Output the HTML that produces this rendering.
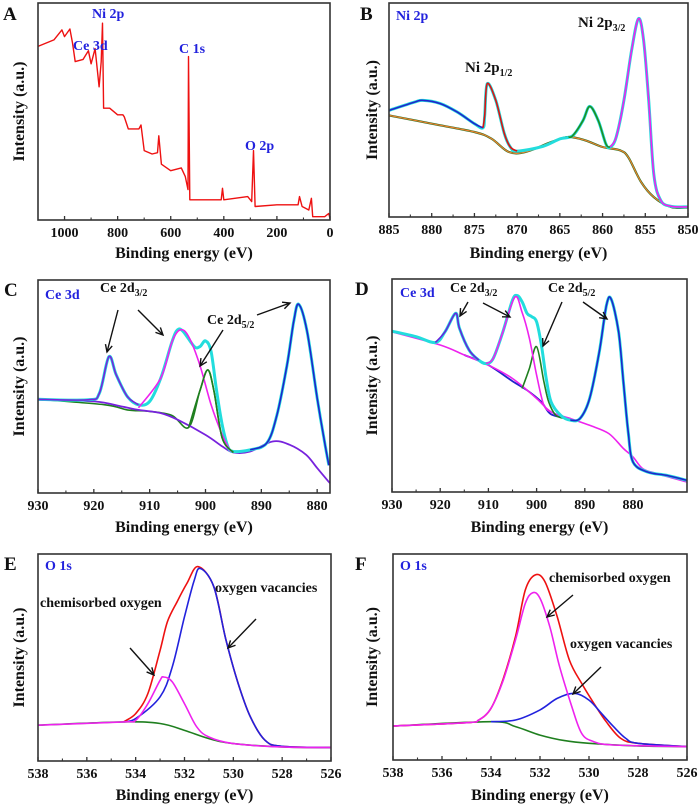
<!DOCTYPE html>
<html><head><meta charset="utf-8"><style>
html,body{margin:0;padding:0;background:#fff;}
svg{display:block;font-family:"Liberation Serif",serif;font-weight:bold;}
</style></head><body>
<svg id="fig" width="700" height="809" viewBox="0 0 700 809" xmlns="http://www.w3.org/2000/svg"></svg>
<script>
// ---------- DATA (eV, relative intensity 0-100) ----------
const surveyA = [[1100,80],[1040,83],[1010,87.6],[1000,84.5],[980,88],[970,81.6],[960,73],[930,74],[910,78],[900,72],[885,79],[870,61.4],[862,73],[857,90.7],[853,51.5],[830,51.5],[800,48.5],[780,48.5],[775,47.5],[760,42],[720,42],[712,43.8],[700,32],[670,30.4],[650,31],[645,38.8],[635,25.7],[600,22.7],[560,24],[545,20],[535,14],[533,75.3],[528,9.3],[500,9.3],[410,9.3],[405,14.6],[400,9.3],[310,10.8],[295,8.5],[288,32],[282,6.2],[200,7],[120,7],[115,10.8],[105,6.2],[80,4.6],[70,10],[65,1.5],[20,1.5],[5,3],[0,0.8]];

const bgB = [[885,47.5],[880,43.6],[875,39.7],[873,36.6],[871,30.4],[869,30.4],[866,35],[864,37.4],[862,35.8],[860,32.7],[858,31.2],[857,28],[855.5,16.4],[854,9.3],[852,4.7],[850,4.4]];
const envB = [[885,49.8],[882,53.7],[881,54.5],[879,53],[877,49],[875,43.6],[874,41.7],[873.8,47.5],[873.5,62.3],[872.5,54.5],[871.5,39],[870.8,32.7],[870,30.8],[867,33],[865,36.5],[863.5,38],[862.3,45],[861.5,51.7],[860.5,45],[859.6,34],[859.1,32.7],[858.4,37.4],[857.5,54.5],[856.6,77.9],[855.8,92.7],[855.2,82.6],[854.6,54.5],[854,20],[853.2,7.8],[852,5],[850,4.7]];
const satB = [[885,49.8],[882,53.7],[881,54.5],[879,53],[877,49],[875,43.6],[874,41.7]];
const p12B = [[874,41.7],[873.8,47.5],[873.5,62.3],[872.5,54.5],[871.5,39],[870.8,32.7],[870,30.8]];
const satB2 = [[864,37.4],[863.5,38],[862.3,45],[861.5,51.7],[860.5,45],[859.6,34],[859.1,32.7]];
const p32B = [[859.1,32.7],[858.4,37.4],[857.5,54.5],[856.6,77.9],[855.8,92.7],[855.2,82.6],[854.6,54.5],[854,20],[853.2,7.8],[852,5],[850,4.7]];

const bgC = [[930,43.75],[920,43],[915,40.6],[912,39],[908,37.5],[905,34.4],[900,27.3],[897,21.9],[895,19],[892,19.5],[888,24.2],[885,22.7],[882,18],[880,11.7],[878,5.5],[877.7,4.7]];
const greenC = [[930,44],[918,41.4],[914,39],[910,38.3],[906,36.4],[903,30.8],[901,48],[899.6,57.8],[898.5,48],[897,25.8],[895,19]];
const envC = [[930,44],[921,43.75],[919,46.9],[917.3,64],[916,55.5],[914,45.3],[912,41.4],[910,43],[908,54],[906,71],[905,76.6],[904,75.8],[902,68.75],[901,68.75],[900,71.4],[899,66.4],[898,47.7],[897,32],[896,21.9],[895,19.5],[892,20.3],[889,23.5],[887.2,36.7],[885.4,60],[884.2,80.5],[883.3,88.6],[881.8,75.8],[880,44.5],[878.8,25.8],[877.9,13]];
const pk1C = [[930,44],[921,43.75],[919,46.9],[917.3,64],[916,55.5],[914,45.3],[912,41.4]];
const pk2C = [[912,40],[908,54],[906,71],[904.5,76.6],[903,73.4],[901,60],[899,41.4],[897,27.3],[895.5,19.5]];
const pk3C = [[892,20.3],[889,23.5],[887.2,36.7],[885.4,60],[884.2,80.5],[883.3,88.6],[881.8,75.8],[880,44.5],[878.8,25.8],[877.9,13]];

const bgD = [[930,75.2],[920,69],[915,64.3],[910,59.6],[905,53.3],[900,43.9],[897,37.6],[893,34.5],[889,31.3],[885,27.4],[882,20.4],[880,16.5],[878,11],[875,8.6],[868.8,4.7]];
const blueBgD = [[915,64.3],[910,59.6],[905,52],[902,47.8],[899,42.3],[897,36.5],[893,34.5]];
const greenD = [[903,48.6],[901.5,58],[900,68.2],[898.5,52],[897.5,42.3],[896,36],[894,34.5]];
const envD = [[930,75.5],[925,72.9],[921,70.2],[919,75.2],[916.8,83.9],[916,76.8],[914,66.6],[912,61.9],[910.5,60.3],[909,62.7],[907,75.2],[905,90.1],[904,92.2],[903,89.3],[902,83.9],[901,82.3],[900,79.9],[899,69],[898,53.3],[897,42.3],[895,36],[893,33.7],[891,34.5],[889,43.9],[887,65.8],[885.5,87.8],[884.5,90.4],[883,75.2],[882,51.7],[881,28.2],[880,14.1],[877,9.4],[873,7.8],[868.8,5.5]];
const pk1D = [[921,70.2],[919,75.2],[916.8,83.9],[916,76.8],[914,66.6],[912,61.9]];
const pk2D = [[910.5,60.3],[909,62.7],[907,75.2],[904.5,91.5],[903,84.3],[901.5,72.1],[900,54.9],[898.5,40.8],[897,37.6]];
const pk3D = [[893,33.7],[891,34.5],[889,43.9],[887,65.8],[885.5,87.8],[884.5,90.4],[883,75.2],[882,51.7],[881,28.2],[880,14.1],[877,9.4],[873,7.8],[868.8,5.5]];

const greenE = [[538,17.3],[534.5,18.9],[533,18.1],[532,14.8],[531,10.8],[530,8.4],[528,6.8],[526,6.5]];
const magE = [[538,17.3],[534.5,18.9],[534,19.7],[533.5,27.7],[533,39],[532.85,40.6],[532.5,38.2],[532,27.7],[531.5,16.5],[531,11.6],[530,8.4],[528,6.8],[526,6.5]];
const blueE = [[534.5,18.9],[534,20.5],[533,31],[532.5,45.5],[532,69.7],[531.6,87.4],[531.35,93],[530.8,84.2],[530.3,58.4],[529.8,37.4],[529.3,21.3],[528.7,10],[528,7.1],[526,6.5]];
const redE = [[534.5,18.9],[534,22.9],[533.5,32.6],[533,53.5],[532.7,67.3],[532.3,77],[531.9,85.8],[531.45,93.9],[530.8,84.2],[530.3,58.4],[529.8,37.4],[529.3,21.3],[528.7,10],[528,7.1],[526,6.5]];

const greenF = [[538,16.5],[534,18.6],[533,16.2],[532,12.1],[531,9.4],[530,8.1],[528,6.8],[526,6.5]];
const blueF = [[534,18.6],[533,19.4],[532,24.3],[531.3,29.9],[530.6,32.4],[530,29.1],[529.5,22.7],[529,16.2],[528.5,10.5],[528,8.1],[526,6.5]];
const magF = [[538,16.5],[535,18.1],[534.5,19.4],[534,25.1],[533.5,38.8],[533,58.3],[532.6,76],[532.3,81.2],[532,78.5],[531.6,64.7],[531.2,45.3],[530.7,25.9],[530.3,12.9],[529.8,8.9],[529,7.3],[526,6.5]];
const redF = [[538,16.5],[535,18.1],[534.5,19.4],[534,25.1],[533.5,39.5],[533,59.9],[532.6,82.5],[532.2,89.8],[531.8,86.6],[531.3,69.6],[530.8,48.5],[530.3,37.2],[529.8,27.5],[529.3,18.6],[528.7,10.5],[528,8.1],[526,6.5]];

const ticksA = [1000,800,600,400,200,0];
const ticksB = [885,880,875,870,865,860,855,850];
const ticksCD = [930,920,910,900,890,880];
const ticksEF = [538,536,534,532,530,528,526];

// ---------- DRAWING ----------
const NS = "http://www.w3.org/2000/svg";
const svg = document.getElementById('fig');
function el(tag, attrs, parent){const e=document.createElementNS(NS,tag);for(const k in attrs)e.setAttribute(k,attrs[k]);(parent||svg).appendChild(e);return e;}

function smoothPath(pts){
  if(pts.length<3){return 'M'+pts.map(p=>p.join(',')).join('L');}
  let d='M'+pts[0][0].toFixed(1)+','+pts[0][1].toFixed(1);
  for(let i=0;i<pts.length-1;i++){
    const p0=pts[i-1]||pts[i],p1=pts[i],p2=pts[i+1],p3=pts[i+2]||p2;
    const c1=[p1[0]+(p2[0]-p0[0])/6,p1[1]+(p2[1]-p0[1])/6];
    const c2=[p2[0]-(p3[0]-p1[0])/6,p2[1]-(p3[1]-p1[1])/6];
    d+='C'+c1[0].toFixed(1)+','+c1[1].toFixed(1)+' '+c2[0].toFixed(1)+','+c2[1].toFixed(1)+' '+p2[0].toFixed(1)+','+p2[1].toFixed(1);
  }
  return d;
}

function panel(cfg){
  const g=el('g',{});
  
  
  const {x0,x1,y0,y1,d0,d1}=cfg;
  const sx=v=>x0+(v-d0)/(d1-d0)*(x1-x0);
  const sy=v=>y1-v/100*(y1-y0);
  cfg.series.forEach(s=>{
    const pts=s.data.map(p=>[sx(p[0]),sy(p[1])]);
    const d=s.linear?'M'+pts.map(p=>p[0].toFixed(1)+','+p[1].toFixed(1)).join('L'):smoothPath(pts);
    const path=el('path',{d:d,fill:'none',stroke:s.color,'stroke-width':s.w||1.6,'stroke-linejoin':'round'},g);
    
    
  });
  const fr=el('rect',{x:x0,y:y0,width:x1-x0,height:y1-y0,fill:'none',stroke:'#333','stroke-width':1.6},g);
  
  
  cfg.ticks.forEach((t,i)=>{
    const x=sx(t);
    el('line',{x1:x,x2:x,y1:y1,y2:y1-4,stroke:'#333','stroke-width':1.3},g);
    const tx=el('text',{x:x,y:y1+17,'text-anchor':'middle','font-size':14,fill:'#111'},g);
    tx.textContent=t;
    
    
    if(i<cfg.ticks.length-1){
      const m=sx((t+cfg.ticks[i+1])/2);
      el('line',{x1:m,x2:m,y1:y1,y2:y1-2.5,stroke:'#333','stroke-width':1.1},g);
    }
  });
  const xt=el('text',{x:(x0+x1)/2,y:cfg.xtY,'text-anchor':'middle','font-size':16,fill:'#111'},g);
  xt.textContent='Binding energy (eV)';
  
  
  const yc=(y0+y1)/2;
  const yt=el('text',{x:cfg.ytX,y:yc,'text-anchor':'middle','font-size':16,fill:'#111',transform:`rotate(-90 ${cfg.ytX} ${yc})`},g);
  yt.textContent='Intensity (a.u.)';
  
  
  const lt=el('text',{x:cfg.letter[1],y:cfg.letter[2],'font-size':19,fill:'#111'},g);
  lt.textContent=cfg.letter[0];
  
  
  (cfg.labels||[]).forEach(L=>{
    const t=el('text',{x:L.x,y:L.y,'font-size':L.fs||14,fill:L.c||'#111'},g);
    t.innerHTML=L.t;
    
    
  });
  (cfg.arrows||[]).forEach(a=>{
    const [ax1,ay1,ax2,ay2]=a;
    const ang=Math.atan2(ay2-ay1,ax2-ax1);
    const l=el('line',{x1:ax1,y1:ay1,x2:ax2,y2:ay2,stroke:'#111','stroke-width':1.4},g);
    
    
    const h=8,sp=0.45;
    el('path',{d:`M${ax2-h*Math.cos(ang-sp)},${ay2-h*Math.sin(ang-sp)}L${ax2},${ay2}L${ax2-h*Math.cos(ang+sp)},${ay2-h*Math.sin(ang+sp)}`,fill:'none',stroke:'#111','stroke-width':1.4},g);
  });
}

const sub=(a,b)=>`${a}<tspan font-size="10" dy="4">${b}</tspan>`;

panel({name:'panel-a-survey',x0:38,x1:330,y0:3,y1:220,d0:1100,d1:0,ticks:ticksA,xtY:258,ytX:24,letter:['A',3,20],
  series:[{data:surveyA,color:'#ee1111',w:1.4,linear:true,name:'survey-spectrum'}],
  labels:[{t:'Ni 2p',x:92,y:18,c:'#2222dd',n:'label-ni2p'},{t:'Ce 3d',x:73,y:50,c:'#2222dd',n:'label-ce3d'},{t:'C 1s',x:179,y:53,c:'#2222dd',n:'label-c1s'},{t:'O 2p',x:245,y:150,c:'#2222dd',n:'label-o2p'}]});

panel({name:'panel-b-ni2p',x0:389,x1:688,y0:3,y1:217,d0:885,d1:850,ticks:ticksB,xtY:258,ytX:377,letter:['B',360,20],
  series:[{data:bgB,color:'#1f6f1f',w:2.2,name:'background-green'},{data:bgB,color:'#f08030',w:1.2,name:'background-orange'},
    {data:envB,color:'#22dddd',w:3,name:'envelope'},{data:satB,color:'#2222cc',name:'satellite-1'},{data:p12B,color:'#dd1111',name:'peak-2p12'},
    {data:satB2,color:'#1f8f1f',name:'satellite-2'},{data:p32B,color:'#ee22ee',name:'peak-2p32'}],
  labels:[{t:'Ni 2p',x:396,y:20,c:'#2222dd',n:'label-ni2p'},{t:sub('Ni 2p','3/2'),x:578,y:27,fs:15,n:'label-ni2p32'},{t:sub('Ni 2p','1/2'),x:465,y:72,fs:15,n:'label-ni2p12'}]});

panel({name:'panel-c-ce3d',x0:38,x1:330,y0:280,y1:493,d0:930,d1:877.7,ticks:ticksCD,xtY:532,ytX:24,letter:['C',4,296],
  series:[{data:greenC,color:'#1f7f1f',name:'background-green'},{data:bgC,color:'#7722dd',w:1.8,name:'background-purple'},
    {data:envC,color:'#22dddd',w:3,name:'envelope'},{data:pk1C,color:'#7722dd',name:'peak-917'},{data:pk2C,color:'#ee22ee',name:'peak-904'},
    {data:greenC.slice(5),color:'#1f7f1f',name:'peak-900'},{data:pk3C,color:'#2222cc',name:'peak-883'}],
  labels:[{t:'Ce 3d',x:45,y:299,c:'#2222dd',n:'label-ce3d'},{t:sub('Ce 2d','3/2'),x:100,y:292,n:'label-ce2d32'},{t:sub('Ce 2d','5/2'),x:207,y:324,n:'label-ce2d52'}],
  arrows:[[118,310,107,352],[138,310,163,335],[223,330,200,366],[257,315,290,303]]});

panel({name:'panel-d-ce3d',x0:392,x1:687,y0:279,y1:492,d0:930,d1:868.8,ticks:ticksCD,xtY:532,ytX:377,letter:['D',355,295],
  series:[{data:blueBgD,color:'#2222cc',w:1.8,name:'background-blue'},{data:bgD,color:'#ee22ee',w:1.6,name:'background-magenta'},
    {data:greenD,color:'#1f7f1f',name:'peak-900'},{data:envD,color:'#22dddd',w:3,name:'envelope'},{data:pk1D,color:'#6622dd',name:'peak-917'},
    {data:pk2D,color:'#ee22ee',name:'peak-904'},{data:pk3D,color:'#2222cc',name:'peak-884'}],
  labels:[{t:'Ce 3d',x:400,y:297,c:'#2222dd',n:'label-ce3d'},{t:sub('Ce 2d','3/2'),x:450,y:292,n:'label-ce2d32'},{t:sub('Ce 2d','5/2'),x:548,y:292,n:'label-ce2d52'}],
  arrows:[[468,302,460,316],[483,303,510,317],[562,302,543,346],[583,302,607,319]]});

panel({name:'panel-e-o1s',x0:38,x1:331,y0:554,y1:761,d0:538,d1:526,ticks:ticksEF,xtY:800,ytX:24,letter:['E',4,570],
  series:[{data:greenE,color:'#1f7f1f',name:'background'},{data:redE,color:'#ee1111',name:'envelope'},{data:blueE,color:'#2222dd',name:'oxygen-vacancies-peak'},{data:magE,color:'#ee22ee',name:'chemisorbed-oxygen-peak'}],
  labels:[{t:'O 1s',x:45,y:570,c:'#2222dd',n:'label-o1s'},{t:'oxygen vacancies',x:215,y:592,n:'label-oxygen-vacancies'},{t:'chemisorbed oxygen',x:40,y:607,n:'label-chemisorbed-oxygen'}],
  arrows:[[130,648,154,675],[256,619,228,648]]});

panel({name:'panel-f-o1s',x0:393,x1:687,y0:554,y1:760,d0:538,d1:526,ticks:ticksEF,xtY:800,ytX:377,letter:['F',355,570],
  series:[{data:greenF,color:'#1f7f1f',name:'background'},{data:redF,color:'#ee1111',name:'envelope'},{data:blueF,color:'#2222dd',name:'oxygen-vacancies-peak'},{data:magF,color:'#ee22ee',name:'chemisorbed-oxygen-peak'}],
  labels:[{t:'O 1s',x:400,y:570,c:'#2222dd',n:'label-o1s'},{t:'chemisorbed oxygen',x:549,y:582,n:'label-chemisorbed-oxygen'},{t:'oxygen vacancies',x:570,y:648,n:'label-oxygen-vacancies'}],
  arrows:[[573,595,547,617],[601,667,573,694]]});
</script>
</body></html>
